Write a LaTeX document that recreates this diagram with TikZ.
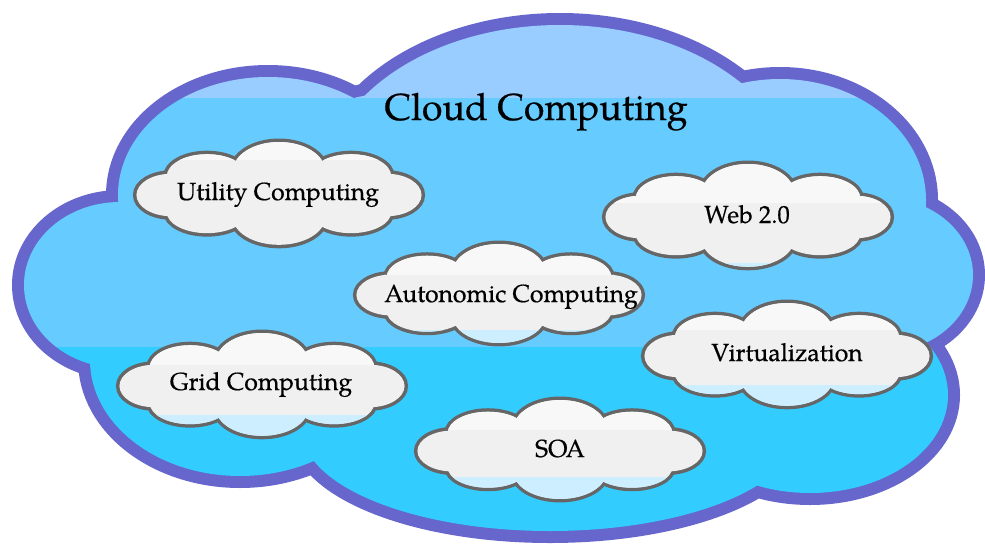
\documentclass[tikz,border=0pt]{standalone}
\usepackage{fontspec}
\setmainfont{texgyrepagella}[Extension=.otf,UprightFont=*-regular,BoldFont=*-bold]
\newfontfamily\heavyfont{texgyrepagella}[Extension=.otf,UprightFont=*-regular,FakeBold=0.5]
\definecolor{bigborder}{HTML}{6666CC}
\definecolor{bandtop}{HTML}{99CCFF}
\definecolor{bandmid}{HTML}{66CCFF}
\definecolor{bandbot}{HTML}{33CCFF}
\definecolor{smallborder}{HTML}{666666}
\definecolor{cloudgray}{HTML}{F0F0F0}
\definecolor{cloudlight}{HTML}{F8F8F8}
\definecolor{cloudblue}{HTML}{CCEEFF}
\tikzset{
  lbl/.style={inner sep=0pt, anchor=base, text=black, font=\heavyfont\fontsize{24.7}{28}\selectfont},
  titlelbl/.style={inner sep=0pt, anchor=base, text=black, font=\heavyfont\fontsize{37.5}{42}\selectfont}
}
\def\biglobes{268/195/150/118, 560/190/238/165, 780/200/146/121, 880/275/93/78, 810/395/138/98, 550/430/248/101, 240/360/150/116, 120/285/96/83, 520/280/400/200}
\def\smalllobes{-0.75/0/0.24/0.40, 0.75/0/0.24/0.40, -0.5/-0.35/0.28/0.42, 0/-0.45/0.32/0.55, 0.5/-0.35/0.28/0.42, -0.5/0.32/0.28/0.40, 0/0.42/0.32/0.52, 0.5/0.32/0.28/0.40, 0/0/0.75/0.5}
% #1 cx, #2 cy, #3 yscale, #4 light band bottom, #5 blue band top
\newcommand\smallcloud[5]{%
  \draw[draw=smallborder, line width=7pt] \foreach \ux/\uy/\ua/\ub in \smalllobes
    {({#1+144*\ux},{#2+#3*\uy}) ellipse [x radius={144*\ua}, y radius={#3*\ub}]};
  \begin{scope}
    \clip \foreach \ux/\uy/\ua/\ub in \smalllobes
      {({#1+144*\ux},{#2+#3*\uy}) ellipse [x radius={144*\ua}, y radius={#3*\ub}]};
    \fill[cloudgray] ({#1-160},{#2-70}) rectangle ({#1+160},{#2+70});
    \fill[cloudlight] ({#1-160},{#2-70}) rectangle ({#1+160},#4);
    \fill[cloudblue] ({#1-160},#5) rectangle ({#1+160},{#2+70});
  \end{scope}
}
\begin{document}
\begin{tikzpicture}[x=1pt,y=-1pt]
\useasboundingbox (0,0) rectangle (985,546);
\fill[white] (0,0) rectangle (985,546);
% big cloud
\draw[draw=bigborder, line width=24pt] \foreach \cx/\cy/\rx/\ry in \biglobes
  {(\cx,\cy) ellipse [x radius=\rx, y radius=\ry]};
\begin{scope}
  \clip \foreach \cx/\cy/\rx/\ry in \biglobes
    {(\cx,\cy) ellipse [x radius=\rx, y radius=\ry]};
  \fill[bandtop] (0,0) rectangle (985,98);
  \fill[bandmid] (0,98) rectangle (985,347);
  \fill[bandbot] (0,347) rectangle (985,546);
\end{scope}
% small clouds
\smallcloud{279}{195}{53}{160}{600}
\smallcloud{748}{217}{53}{203}{263}
\smallcloud{499}{295}{51}{275}{330}
\smallcloud{787}{356}{53}{330}{385}
\smallcloud{262}{386}{53}{365}{415}
\smallcloud{560}{451}{51}{430}{477}
% labels
\node[titlelbl] (title) at (536,120) {Cloud Computing};
\node[lbl] (utility) at (278,200) {Utility Computing};
\node[lbl] (web) at (747,223) {Web 2.0};
\node[lbl] (autonomic) at (511,302) {Autonomic Computing};
\node[lbl] (virt) at (787,361) {Virtualization};
\node[lbl] (grid) at (261,390) {Grid Computing};
\node[lbl] (soa) at (560,457) {SOA};
\end{tikzpicture}
\end{document}
